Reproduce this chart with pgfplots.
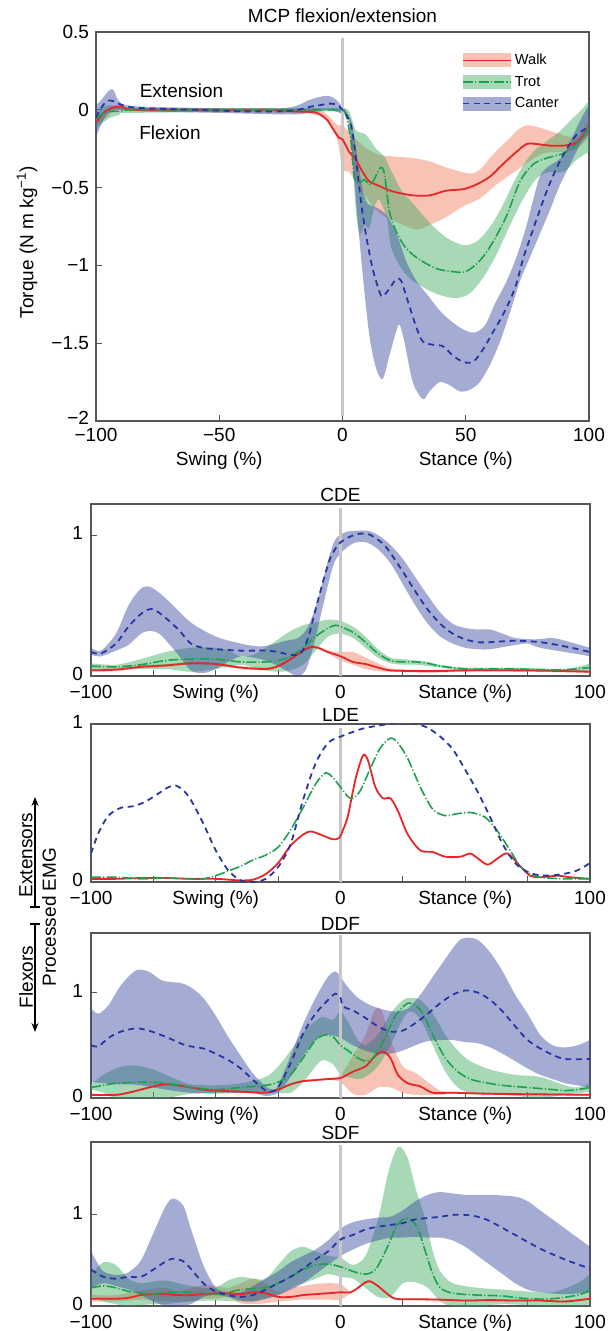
\documentclass[border=0pt]{standalone}
\usepackage{fontspec}
\setmainfont{Liberation Sans}
\usepackage{pgfplots}
\pgfplotsset{compat=1.18}
\usepgfplotslibrary{fillbetween}
\usetikzlibrary{arrows.meta}
\definecolor{walkline}{RGB}{232,38,40}
\definecolor{walkfill}{RGB}{240,120,90}
\definecolor{trotline}{RGB}{30,160,80}
\definecolor{trotfill}{RGB}{60,170,95}
\definecolor{cantline}{RGB}{40,55,160}
\definecolor{cantfill}{RGB}{55,70,160}
\definecolor{axgray}{RGB}{85,85,90}
\pgfplotsset{
  walkL/.style={color=walkline, line width=0.9pt, smooth},
  trotL/.style={color=trotline, line width=0.8pt, dash pattern=on 5pt off 1.1pt on 0.6pt off 1.1pt, smooth},
  cantL/.style={color=cantline, line width=0.9pt, dash pattern=on 3pt off 2.3pt, smooth},
  bnd/.style={draw=none, smooth, forget plot},
  wfill/.style={fill=walkfill, fill opacity=0.45, draw=none, forget plot},
  tfill/.style={fill=trotfill, fill opacity=0.45, draw=none, forget plot},
  cfill/.style={fill=cantfill, fill opacity=0.45, draw=none, forget plot},
  zline/.style={color=black!22, line width=1.5pt, forget plot},
  every axis title/.style={at={(0.5,1)}, anchor=base, yshift=1.5pt},
  common/.style={scale only axis, xmin=-100, xmax=100, axis line style={axgray, line width=0.6pt},
    tick align=inside, xtick pos=bottom, ytick pos=left, tick style={axgray, line width=0.5pt},
    major tick length=3pt, minor tick length=3pt},
  emg/.style={common, width=249.5pt, ymin=0, xtick={-100,-50,0,50,100},
    xticklabels={−100,Swing (\%),0,Stance (\%),100}, minor xtick={-75,-25,25,75},
    xticklabel style={yshift=-1pt},
    ytick={0,1}, yticklabels={0,1}, yticklabel style={yshift=1pt, xshift=-0.5pt}},
}
\begin{document}
\begin{tikzpicture}[font=\fontsize{9.5}{12}\selectfont]

% ================= MCP =================
\begin{axis}[common, at={(48pt,-210.5pt)}, anchor=south west, width=246.5pt, height=194.5pt,
  ymin=-2, ymax=0.5, title={MCP flexion/extension}, title style={yshift=3pt},
  xtick={-100,-50,0,50,100}, xticklabels={−100,{−50\\Swing (\%)},0,{50\\Stance (\%)},100},
  xticklabel style={align=center},
  ytick={-2,-1.5,-1,-0.5,0,0.5}, yticklabels={\raisebox{3pt}{−2},−1.5,−1,−0.5,0,0.5},
  legend style={at={(0.73,0.965)}, anchor=north west, draw=none, fill=none,
    font=\fontsize{7.3}{8.5}\selectfont, row sep=0.5pt,
    nodes={inner sep=1.5pt, text height=5.8pt, text depth=1.5pt}},
  legend cell align=left]
\addplot[bnd, name path=wu] coordinates {(-100,-0.06) (-95,0.0) (-92,0.03) (-88,0.02) (-85,0.01) (-20,0.005) (-12,0.0) (-8,-0.01) (-5,-0.05) (-2,-0.1) (0,-0.1) (3,-0.15) (6,-0.2) (10,-0.25) (15,-0.29) (21,-0.3) (28.5,-0.31) (35,-0.33) (42,-0.37) (51.6,-0.41) (56,-0.38) (59.8,-0.31) (64,-0.24) (68,-0.18) (71,-0.13) (74.7,-0.1) (78.8,-0.11) (83,-0.13) (87,-0.15) (91,-0.17) (95,-0.18) (98,-0.12) (100,-0.05)};
\addplot[bnd, name path=wl] coordinates {(-100,-0.1) (-95,-0.04) (-92,0.0) (-88,0.0) (-85,-0.01) (-20,-0.02) (-12,-0.03) (-8,-0.05) (-5,-0.1) (-2,-0.2) (0,-0.38) (2.7,-0.4) (6,-0.48) (10.9,-0.59) (14,-0.65) (17.7,-0.69) (24.5,-0.74) (30,-0.77) (35.3,-0.74) (42,-0.69) (49,-0.62) (55.7,-0.57) (62.5,-0.48) (70.6,-0.39) (76,-0.33) (81.5,-0.28) (89.7,-0.27) (95,-0.25) (100,-0.18)};
\addplot[wfill] fill between[of=wu and wl];
\addplot[bnd, name path=tu] coordinates {(-100,-0.02) (-97,0.02) (-94,0.03) (-90,0.01) (-85,0.01) (-10,0.01) (0,0.01) (2.7,-0.01) (5.4,-0.13) (9.5,-0.16) (13.6,-0.25) (17,-0.3) (20,-0.4) (24,-0.52) (28.5,-0.6) (35,-0.72) (42,-0.82) (49,-0.87) (54,-0.85) (58,-0.79) (62,-0.7) (66,-0.58) (70,-0.45) (74,-0.34) (78,-0.26) (83,-0.2) (88,-0.14) (93,-0.06) (97,0.0) (100,0.06)};
\addplot[bnd, name path=tl] coordinates {(-100,-0.12) (-97,-0.08) (-94,-0.05) (-90,-0.03) (-85,-0.02) (-10,-0.01) (0,-0.02) (2,-0.05) (4,-0.3) (5.4,-0.65) (7,-0.8) (9,-0.74) (10.9,-0.76) (13,-0.62) (15,-0.58) (18,-0.7) (20,-0.9) (25.8,-1.06) (32.6,-1.14) (39.4,-1.19) (46,-1.21) (51.6,-1.18) (57,-1.08) (62.5,-0.93) (68,-0.74) (73.4,-0.57) (78.8,-0.44) (84,-0.4) (89.7,-0.4) (95,-0.32) (100,-0.27)};
\addplot[tfill] fill between[of=tu and tl];
\addplot[bnd, name path=cu] coordinates {(-100,0.03) (-98,0.06) (-95,0.12) (-93,0.13) (-91,0.06) (-88,0.03) (-80,0.02) (-50,0.01) (-25,0.01) (-18,0.03) (-14,0.06) (-10,0.08) (-6,0.09) (-3,0.07) (0,0.02) (2,-0.02) (4,-0.1) (6,-0.3) (8,-0.5) (10,-0.6) (14,-0.63) (18,-0.68) (22,-0.8) (26,-0.98) (30,-1.1) (35,-1.2) (40,-1.3) (45,-1.37) (50,-1.42) (54,-1.43) (58,-1.38) (62,-1.24) (66,-1.12) (70,-0.97) (74,-0.78) (77,-0.6) (80,-0.43) (83,-0.37) (87,-0.33) (90,-0.28) (94,-0.15) (97,-0.05) (100,0.03)};
\addplot[bnd, name path=cl] coordinates {(-100,-0.17) (-98,-0.1) (-95,-0.02) (-90,0.0) (-80,-0.01) (-50,-0.02) (-20,-0.03) (-10,-0.01) (-5,0.0) (0,-0.03) (2.7,-0.07) (5,-0.5) (8.2,-1.06) (10.9,-1.45) (13.6,-1.66) (16.3,-1.73) (19,-1.58) (21.7,-1.43) (23.1,-1.38) (25.1,-1.49) (28.5,-1.75) (32.6,-1.86) (35.3,-1.81) (39.4,-1.75) (43.5,-1.77) (47.6,-1.81) (51.6,-1.8) (55.7,-1.75) (59.8,-1.64) (63.9,-1.49) (68,-1.3) (72,-1.1) (76,-0.95) (80,-0.8) (84,-0.65) (88.3,-0.48) (92.4,-0.35) (96.5,-0.22) (100,-0.16)};
\addplot[cfill] fill between[of=cu and cl];
\addplot[zline] coordinates {(0,-1.97) (0,0.46)};
\addplot[walkL, legend image code/.code={\path[fill=walkfill, fill opacity=0.45, draw=none] (0pt,-3.5pt) rectangle (24pt,3.5pt); \draw[walkline, line width=0.8pt, solid] (0pt,0pt) -- (24pt,0pt);}] coordinates {(-100,-0.08) (-97,-0.02) (-94,0.01) (-91,0.02) (-88,0.01) (-85,0.0) (-70,0.0) (-50,0.0) (-30,0.0) (-20,-0.01) (-12,-0.015) (-9,-0.03) (-6,-0.07) (-4,-0.12) (-1.4,-0.18) (0,-0.19) (2.7,-0.27) (5.4,-0.32) (8.2,-0.4) (10.9,-0.46) (15,-0.49) (17.7,-0.51) (21.7,-0.53) (28.5,-0.55) (35.3,-0.55) (42,-0.52) (49,-0.51) (54.3,-0.48) (59.8,-0.43) (65,-0.35) (70.6,-0.27) (74.7,-0.22) (78.8,-0.22) (84,-0.23) (89.7,-0.23) (95,-0.21) (100,-0.11)};
\addlegendentry{Walk}
\addplot[trotL, legend image code/.code={\path[fill=trotfill, fill opacity=0.45, draw=none] (0pt,-3.5pt) rectangle (24pt,3.5pt); \draw[trotline, line width=0.8pt, dash pattern=on 5pt off 1.1pt on 0.6pt off 1.1pt] (0pt,0pt) -- (24pt,0pt);}] coordinates {(-100,-0.06) (-97,-0.02) (-94,-0.01) (-90,-0.01) (-85,0.0) (-50,0.0) (-10,0.0) (-3,0.0) (0,-0.005) (1.4,-0.03) (3.4,-0.2) (4.8,-0.44) (6.8,-0.47) (8.8,-0.45) (11.5,-0.48) (14.3,-0.4) (15.6,-0.37) (17,-0.41) (19,-0.65) (21.7,-0.78) (25.8,-0.89) (31,-0.96) (38,-1.02) (44.8,-1.04) (50,-1.04) (55.7,-0.97) (61,-0.85) (66.6,-0.68) (72,-0.46) (77.4,-0.35) (82.9,-0.31) (89.7,-0.28) (95,-0.22) (100,-0.12)};
\addlegendentry{Trot}
\addplot[cantL, legend image code/.code={\path[fill=cantfill, fill opacity=0.45, draw=none] (0pt,-3.5pt) rectangle (24pt,3.5pt); \draw[cantline, line width=0.8pt, dash pattern=on 3pt off 2.3pt] (0pt,0pt) -- (24pt,0pt);}] coordinates {(-100,-0.05) (-98,0.01) (-96,0.05) (-94,0.06) (-91,0.04) (-87,0.02) (-80,0.01) (-60,0.0) (-40,-0.01) (-25,-0.01) (-18,0.0) (-13,0.02) (-9,0.03) (-5,0.04) (-2,0.03) (0,0.0) (1.4,-0.03) (4,-0.14) (7.5,-0.59) (9.5,-0.8) (12.2,-1.02) (15,-1.17) (16.3,-1.2) (19,-1.15) (21.7,-1.09) (23.8,-1.1) (26.5,-1.23) (30,-1.4) (32.6,-1.49) (36.7,-1.51) (40.8,-1.52) (44.8,-1.58) (48.9,-1.62) (53,-1.62) (57,-1.54) (61,-1.43) (65,-1.32) (68.6,-1.2) (70.7,-1.11) (73.4,-0.95) (76,-0.83) (78.8,-0.7) (82.9,-0.52) (87,-0.37) (91,-0.25) (95,-0.16) (100,-0.11)};
\addlegendentry{Canter}
\node at (axis cs:-65.3,0.121) {Extension};
\node at (axis cs:-70,-0.146) {Flexion};
\end{axis}

% ================= CDE =================
\begin{axis}[emg, at={(45.5pt,-338pt)}, anchor=south west, height=86pt, ymax=1.22, title={CDE}]
\addplot[bnd, name path=wu] coordinates {(-100,0.05) (-90,0.055) (-80,0.075) (-70,0.085) (-60,0.1) (-50,0.095) (-40,0.07) (-30,0.06) (-25,0.08) (-20,0.13) (-15,0.19) (-12,0.215) (-9,0.21) (-5,0.18) (0,0.17) (5,0.17) (10,0.13) (15,0.09) (20,0.055) (30,0.045) (40,0.045) (50,0.05) (70,0.05) (90,0.045) (100,0.04)};
\addplot[bnd, name path=wl] coordinates {(-100,0.03) (-90,0.035) (-80,0.055) (-70,0.065) (-60,0.08) (-50,0.075) (-40,0.05) (-30,0.04) (-25,0.06) (-20,0.11) (-15,0.17) (-12,0.195) (-9,0.19) (-5,0.16) (0,0.11) (5,0.08) (10,0.05) (15,0.035) (20,0.03) (30,0.025) (40,0.025) (50,0.03) (70,0.03) (90,0.025) (100,0.02)};
\addplot[wfill] fill between[of=wu and wl];
\addplot[bnd, name path=tu] coordinates {(-100,0.09) (-90,0.08) (-80,0.12) (-70,0.17) (-60,0.2) (-50,0.2) (-45,0.18) (-40,0.14) (-35,0.15) (-30,0.2) (-25,0.26) (-20,0.32) (-15,0.36) (-10,0.38) (-5,0.4) (0,0.39) (5,0.35) (10,0.28) (15,0.19) (20,0.13) (25,0.12) (30,0.11) (35,0.1) (40,0.08) (50,0.06) (70,0.06) (90,0.05) (100,0.09)};
\addplot[bnd, name path=tl] coordinates {(-100,0.04) (-90,0.05) (-80,0.05) (-70,0.05) (-60,0.03) (-50,0.05) (-40,0.08) (-35,0.06) (-30,0.04) (-25,0.03) (-20,0.04) (-15,0.08) (-10,0.18) (-5,0.28) (0,0.3) (5,0.27) (10,0.2) (15,0.13) (20,0.09) (25,0.08) (30,0.08) (40,0.06) (50,0.04) (70,0.04) (90,0.03) (100,0.04)};
\addplot[tfill] fill between[of=tu and tl];
\addplot[bnd, name path=cu] coordinates {(-100,0.2) (-96,0.18) (-90,0.3) (-85,0.5) (-80,0.62) (-76,0.63) (-70,0.55) (-60,0.38) (-50,0.28) (-40,0.23) (-33,0.21) (-28,0.22) (-22,0.25) (-17,0.27) (-13,0.35) (-9,0.55) (-5,0.82) (-2,0.97) (2,1.02) (6,1.03) (11,1.03) (15,1.0) (20,0.93) (25,0.83) (30,0.7) (35,0.57) (40,0.45) (45,0.37) (50,0.34) (55,0.33) (60,0.33) (65,0.3) (70,0.27) (78,0.26) (85,0.27) (90,0.25) (100,0.2)};
\addplot[bnd, name path=cl] coordinates {(-100,0.15) (-96,0.14) (-90,0.18) (-85,0.22) (-80,0.3) (-76,0.32) (-72,0.29) (-65,0.15) (-60,0.04) (-55,0.02) (-50,0.05) (-45,0.1) (-40,0.14) (-35,0.13) (-30,0.11) (-25,0.07) (-20,0.02) (-17,0.0) (-14,0.04) (-11,0.2) (-7,0.5) (-3,0.78) (0,0.87) (5,0.94) (10,0.95) (15,0.9) (20,0.8) (25,0.65) (30,0.5) (35,0.37) (40,0.28) (45,0.23) (50,0.2) (55,0.19) (60,0.19) (70,0.22) (75,0.23) (80,0.2) (90,0.17) (100,0.14)};
\addplot[cfill] fill between[of=cu and cl];
\addplot[zline] coordinates {(0,0) (0,1.19)};
\addplot[walkL] coordinates {(-100,0.04) (-90,0.045) (-80,0.065) (-70,0.075) (-60,0.09) (-50,0.085) (-40,0.06) (-30,0.05) (-25,0.07) (-20,0.12) (-15,0.18) (-12,0.205) (-9,0.2) (-5,0.17) (0,0.14) (5,0.1) (10,0.085) (15,0.06) (20,0.04) (30,0.035) (40,0.035) (50,0.04) (70,0.04) (90,0.035) (100,0.03)};
\addplot[trotL] coordinates {(-100,0.07) (-90,0.065) (-80,0.08) (-70,0.11) (-60,0.12) (-50,0.12) (-40,0.1) (-30,0.1) (-25,0.11) (-20,0.14) (-15,0.2) (-10,0.28) (-5,0.34) (-2,0.36) (0,0.35) (5,0.31) (10,0.24) (15,0.16) (20,0.11) (25,0.1) (30,0.1) (35,0.09) (40,0.07) (50,0.05) (60,0.05) (70,0.05) (80,0.045) (90,0.045) (100,0.06)};
\addplot[cantL] coordinates {(-100,0.17) (-96,0.16) (-90,0.23) (-85,0.35) (-80,0.44) (-76,0.475) (-72,0.44) (-65,0.33) (-60,0.23) (-55,0.2) (-50,0.19) (-40,0.18) (-30,0.18) (-25,0.17) (-20,0.15) (-16,0.16) (-13,0.27) (-10,0.47) (-7,0.67) (-4,0.84) (-1,0.93) (1,0.96) (4,0.99) (8,1.01) (12,1.0) (18,0.92) (25,0.74) (30,0.6) (35,0.47) (40,0.37) (45,0.3) (50,0.26) (55,0.24) (60,0.24) (70,0.25) (80,0.24) (90,0.21) (100,0.17)};
\end{axis}

% ================= LDE =================
\begin{axis}[emg, at={(45.5pt,-441pt)}, anchor=south west, height=79pt, ymax=1.0, title={LDE}]
\addplot[zline] coordinates {(0,0) (0,0.975)};
\addplot[walkL] coordinates {(-100,0.02) (-90,0.02) (-80,0.025) (-70,0.025) (-60,0.02) (-50,0.02) (-45,0.015) (-40,0.01) (-35,0.015) (-30,0.05) (-25,0.12) (-20,0.23) (-15,0.3) (-12,0.32) (-8,0.3) (-3,0.27) (-0.5,0.28) (1,0.33) (3,0.42) (6,0.65) (9,0.8) (11,0.77) (14,0.6) (17,0.53) (20,0.53) (23,0.45) (27,0.3) (32,0.2) (37,0.19) (42,0.16) (48,0.16) (52,0.18) (55,0.15) (59,0.11) (63,0.15) (67,0.18) (72,0.1) (76,0.04) (80,0.03) (87,0.04) (92,0.03) (100,0.02)};
\addplot[trotL] coordinates {(-100,0.03) (-90,0.03) (-80,0.02) (-70,0.025) (-60,0.02) (-55,0.02) (-50,0.04) (-45,0.07) (-40,0.1) (-35,0.14) (-30,0.17) (-25,0.22) (-20,0.33) (-15,0.47) (-10,0.62) (-6,0.69) (-3,0.66) (0,0.6) (3,0.54) (5,0.53) (8,0.58) (12,0.72) (16,0.85) (20,0.91) (23,0.88) (27,0.78) (32,0.6) (37,0.46) (42,0.42) (46,0.43) (52,0.44) (58,0.41) (63,0.32) (68,0.2) (72,0.1) (76,0.05) (80,0.03) (90,0.02) (100,0.02)};
\addplot[cantL] coordinates {(-100,0.18) (-97,0.31) (-93,0.42) (-88,0.47) (-83,0.48) (-78,0.51) (-73,0.56) (-69,0.6) (-66,0.61) (-63,0.58) (-60,0.52) (-55,0.37) (-50,0.2) (-45,0.074) (-40,0.01) (-35,0.0) (-30,0.02) (-25,0.095) (-20,0.24) (-15,0.52) (-10,0.75) (-5,0.88) (0,0.92) (5,0.95) (10,0.975) (20,1.0) (30,1.0) (35,0.975) (40,0.92) (45,0.84) (50,0.71) (55,0.57) (60,0.41) (65,0.24) (70,0.12) (75,0.064) (80,0.042) (85,0.042) (90,0.053) (95,0.074) (100,0.12)};
\end{axis}

% ================= DDF =================
\begin{axis}[emg, at={(45.5pt,-549pt)}, anchor=south west, height=82.5pt, ymax=1.565, title={DDF}]
\addplot[bnd, name path=wu] coordinates {(-100,0.04) (-90,0.04) (-85,0.06) (-80,0.09) (-75,0.12) (-70,0.14) (-65,0.13) (-60,0.11) (-55,0.09) (-50,0.08) (-40,0.07) (-30,0.06) (-25,0.09) (-20,0.14) (-15,0.17) (-10,0.18) (-5,0.19) (0,0.22) (5,0.4) (10,0.6) (13,0.8) (15,0.86) (17,0.8) (20,0.55) (25,0.3) (30,0.24) (35,0.15) (40,0.07) (45,0.06) (60,0.05) (80,0.045) (100,0.04)};
\addplot[bnd, name path=wl] coordinates {(-100,0.02) (-90,0.02) (-85,0.04) (-80,0.07) (-75,0.1) (-70,0.12) (-65,0.11) (-60,0.09) (-55,0.07) (-50,0.06) (-40,0.05) (-30,0.04) (-25,0.07) (-20,0.12) (-15,0.15) (-10,0.16) (-5,0.17) (0,0.15) (5,0.04) (10,0.03) (15,0.1) (20,0.1) (25,0.05) (30,0.03) (40,0.03) (45,0.04) (60,0.03) (80,0.025) (100,0.02)};
\addplot[wfill] fill between[of=wu and wl];
\addplot[bnd, name path=tu] coordinates {(-100,0.13) (-95,0.22) (-90,0.28) (-85,0.31) (-80,0.3) (-75,0.27) (-70,0.22) (-65,0.17) (-60,0.13) (-50,0.12) (-40,0.14) (-30,0.2) (-25,0.3) (-20,0.45) (-15,0.62) (-10,0.73) (-7,0.77) (-3,0.74) (0,0.82) (3,0.72) (7,0.55) (10,0.5) (15,0.6) (20,0.8) (25,0.93) (28,0.95) (32,0.93) (37,0.8) (42,0.6) (47,0.45) (52,0.35) (60,0.27) (70,0.22) (80,0.2) (90,0.12) (95,0.1) (100,0.14)};
\addplot[bnd, name path=tl] coordinates {(-100,0.08) (-95,0.05) (-90,0.0) (-80,0.0) (-70,0.0) (-60,0.04) (-50,0.04) (-40,0.05) (-30,0.06) (-25,0.05) (-20,0.05) (-15,0.15) (-10,0.3) (-7,0.36) (-3,0.32) (0,0.22) (3,0.2) (7,0.18) (10,0.2) (15,0.3) (20,0.5) (25,0.75) (28,0.82) (32,0.75) (37,0.5) (42,0.25) (47,0.1) (52,0.05) (60,0.04) (70,0.02) (80,0.0) (90,0.03) (100,0.06)};
\addplot[tfill] fill between[of=tu and tl];
\addplot[bnd, name path=cu] coordinates {(-100,0.85) (-97,0.8) (-93,0.88) (-88,1.07) (-82,1.21) (-77,1.2) (-72,1.12) (-68,1.1) (-64,1.09) (-60,1.05) (-55,0.95) (-50,0.78) (-45,0.58) (-40,0.4) (-35,0.23) (-30,0.11) (-27,0.08) (-25,0.12) (-20,0.4) (-15,0.7) (-10,0.95) (-5,1.15) (-2,1.2) (0,1.15) (3,1.05) (7,0.95) (12,0.88) (17,0.84) (22,0.82) (27,0.85) (32,0.98) (37,1.15) (42,1.32) (47,1.48) (50,1.52) (55,1.5) (60,1.38) (65,1.2) (70,0.98) (75,0.8) (80,0.6) (85,0.5) (90,0.48) (95,0.5) (100,0.55)};
\addplot[bnd, name path=cl] coordinates {(-100,0.15) (-95,0.14) (-90,0.13) (-85,0.13) (-80,0.12) (-70,0.08) (-60,0.05) (-50,0.05) (-40,0.05) (-35,0.05) (-30,0.02) (-25,0.05) (-20,0.2) (-15,0.4) (-10,0.55) (-5,0.6) (0,0.57) (5,0.5) (10,0.45) (15,0.42) (20,0.42) (25,0.45) (30,0.5) (35,0.54) (40,0.55) (45,0.55) (50,0.53) (55,0.52) (60,0.48) (65,0.42) (70,0.35) (75,0.28) (80,0.22) (85,0.18) (90,0.14) (95,0.12) (100,0.1)};
\addplot[cfill] fill between[of=cu and cl];
\addplot[zline] coordinates {(0,0) (0,1.55)};
\addplot[walkL] coordinates {(-100,0.03) (-90,0.03) (-85,0.05) (-80,0.08) (-75,0.11) (-70,0.13) (-65,0.12) (-60,0.1) (-55,0.08) (-50,0.07) (-40,0.06) (-30,0.05) (-25,0.08) (-20,0.13) (-15,0.16) (-10,0.17) (-5,0.18) (0,0.19) (5,0.25) (10,0.3) (14,0.4) (17,0.44) (20,0.38) (23,0.22) (27,0.14) (32,0.11) (37,0.05) (45,0.05) (60,0.04) (80,0.035) (100,0.03)};
\addplot[trotL] coordinates {(-100,0.1) (-95,0.12) (-90,0.14) (-80,0.15) (-70,0.14) (-60,0.1) (-50,0.08) (-40,0.1) (-30,0.12) (-25,0.15) (-20,0.22) (-15,0.38) (-10,0.55) (-6,0.6) (-3,0.58) (0,0.5) (3,0.45) (7,0.38) (10,0.35) (13,0.38) (17,0.53) (22,0.78) (27,0.9) (30,0.88) (33,0.8) (37,0.6) (42,0.38) (47,0.25) (52,0.18) (57,0.15) (65,0.12) (75,0.1) (85,0.08) (90,0.07) (95,0.08) (100,0.1)};
\addplot[cantL] coordinates {(-100,0.5) (-97,0.49) (-93,0.57) (-88,0.63) (-82,0.66) (-77,0.64) (-70,0.58) (-62,0.5) (-55,0.47) (-50,0.42) (-45,0.36) (-40,0.28) (-35,0.17) (-30,0.07) (-28,0.06) (-25,0.1) (-20,0.33) (-15,0.61) (-10,0.8) (-5,0.93) (-2,0.99) (0,0.95) (1,0.87) (5,0.83) (10,0.76) (15,0.68) (20,0.63) (25,0.64) (30,0.71) (35,0.8) (40,0.9) (45,0.98) (50,1.02) (55,1.0) (60,0.93) (65,0.82) (70,0.68) (75,0.55) (80,0.47) (85,0.41) (90,0.37) (100,0.37)};
\end{axis}

% ================= SDF =================
\begin{axis}[emg, at={(45.5pt,-653pt)}, anchor=south west, height=82pt, ymax=1.8, title={SDF}]
\addplot[bnd, name path=wu] coordinates {(-100,0.12) (-90,0.12) (-80,0.17) (-70,0.2) (-65,0.16) (-55,0.23) (-50,0.22) (-45,0.2) (-40,0.25) (-35,0.3) (-30,0.25) (-25,0.15) (-20,0.2) (-15,0.22) (-10,0.24) (-5,0.25) (0,0.24) (4,0.16) (7,0.21) (10,0.27) (12,0.28) (15,0.23) (18,0.16) (22,0.09) (30,0.085) (40,0.08) (50,0.07) (60,0.075) (70,0.07) (80,0.07) (90,0.06) (100,0.09)};
\addplot[bnd, name path=wl] coordinates {(-100,0.05) (-90,0.05) (-80,0.07) (-70,0.05) (-60,0.05) (-55,0.08) (-50,0.08) (-45,0.1) (-40,0.03) (-35,0.02) (-30,0.03) (-25,0.05) (-20,0.06) (-15,0.07) (-10,0.07) (-5,0.07) (0,0.07) (4,0.14) (7,0.19) (10,0.25) (12,0.26) (15,0.21) (18,0.14) (22,0.07) (30,0.065) (40,0.06) (50,0.05) (60,0.055) (70,0.05) (80,0.05) (90,0.04) (100,0.07)};
\addplot[wfill] fill between[of=wu and wl];
\addplot[bnd, name path=tu] coordinates {(-100,0.35) (-95,0.48) (-90,0.45) (-85,0.3) (-80,0.25) (-75,0.27) (-70,0.28) (-65,0.25) (-60,0.22) (-55,0.2) (-50,0.2) (-45,0.28) (-40,0.32) (-35,0.3) (-30,0.3) (-25,0.45) (-20,0.6) (-15,0.65) (-10,0.6) (-5,0.55) (0,0.53) (5,0.45) (10,0.55) (15,0.95) (19,1.45) (22,1.7) (24,1.75) (27,1.62) (30,1.3) (34,0.95) (37,0.6) (40,0.38) (45,0.25) (55,0.2) (65,0.18) (75,0.16) (85,0.15) (95,0.25) (100,0.35)};
\addplot[bnd, name path=tl] coordinates {(-100,0.1) (-95,0.05) (-90,0.02) (-85,0.0) (-75,0.02) (-70,0.02) (-60,0.05) (-50,0.06) (-40,0.05) (-35,0.05) (-30,0.08) (-25,0.12) (-20,0.2) (-15,0.25) (-10,0.3) (-5,0.35) (0,0.32) (5,0.3) (10,0.2) (15,0.1) (20,0.1) (25,0.25) (30,0.26) (35,0.2) (40,0.05) (45,0.0) (55,0.0) (65,0.02) (75,0.01) (85,0.0) (95,0.0) (100,0.02)};
\addplot[tfill] fill between[of=tu and tl];
\addplot[bnd, name path=cu] coordinates {(-100,0.6) (-98,0.5) (-95,0.38) (-90,0.34) (-85,0.37) (-80,0.5) (-75,0.8) (-70,1.1) (-67,1.18) (-63,1.1) (-60,0.85) (-55,0.45) (-50,0.2) (-45,0.15) (-40,0.15) (-35,0.22) (-30,0.3) (-25,0.38) (-20,0.48) (-15,0.55) (-10,0.62) (-5,0.72) (0,0.85) (5,0.92) (10,0.95) (15,0.97) (20,0.98) (25,1.05) (30,1.15) (35,1.22) (40,1.25) (50,1.22) (60,1.22) (70,1.2) (75,1.15) (80,1.05) (85,0.95) (90,0.85) (95,0.75) (100,0.65)};
\addplot[bnd, name path=cl] coordinates {(-100,0.2) (-95,0.25) (-90,0.22) (-85,0.18) (-80,0.12) (-75,0.05) (-70,0.0) (-65,0.0) (-60,0.02) (-55,0.1) (-50,0.12) (-45,0.1) (-40,0.06) (-35,0.05) (-30,0.08) (-25,0.12) (-20,0.18) (-15,0.25) (-10,0.35) (-5,0.45) (0,0.55) (5,0.62) (10,0.68) (15,0.72) (20,0.75) (25,0.75) (30,0.76) (35,0.75) (40,0.75) (45,0.72) (50,0.65) (55,0.55) (60,0.45) (65,0.35) (70,0.25) (75,0.18) (80,0.15) (90,0.13) (100,0.15)};
\addplot[cfill] fill between[of=cu and cl];
\addplot[zline] coordinates {(0,0) (0,1.77)};
\addplot[walkL] coordinates {(-100,0.08) (-90,0.08) (-85,0.09) (-80,0.12) (-75,0.13) (-70,0.13) (-65,0.12) (-60,0.12) (-55,0.13) (-50,0.14) (-45,0.14) (-40,0.13) (-35,0.15) (-30,0.14) (-25,0.1) (-20,0.1) (-15,0.12) (-10,0.13) (-5,0.14) (0,0.15) (4,0.15) (7,0.2) (10,0.26) (12,0.27) (15,0.22) (18,0.15) (22,0.08) (30,0.075) (40,0.07) (50,0.06) (60,0.065) (70,0.06) (80,0.06) (90,0.05) (100,0.08)};
\addplot[trotL] coordinates {(-100,0.2) (-95,0.22) (-90,0.2) (-85,0.16) (-80,0.14) (-75,0.13) (-70,0.15) (-60,0.15) (-50,0.13) (-45,0.15) (-40,0.18) (-35,0.19) (-30,0.2) (-25,0.25) (-20,0.32) (-15,0.4) (-10,0.45) (-5,0.46) (0,0.43) (5,0.38) (10,0.35) (14,0.4) (18,0.6) (22,0.85) (25,0.95) (28,0.95) (31,0.85) (34,0.6) (37,0.35) (40,0.2) (45,0.14) (55,0.12) (65,0.11) (75,0.08) (85,0.08) (95,0.12) (100,0.17)};
\addplot[cantL] coordinates {(-100,0.4) (-95,0.32) (-90,0.3) (-85,0.32) (-80,0.32) (-75,0.4) (-70,0.49) (-67,0.52) (-63,0.49) (-60,0.41) (-55,0.25) (-50,0.16) (-45,0.12) (-40,0.1) (-35,0.12) (-30,0.18) (-25,0.25) (-20,0.32) (-15,0.41) (-10,0.51) (-5,0.6) (0,0.73) (5,0.78) (10,0.84) (15,0.87) (20,0.89) (25,0.91) (30,0.95) (40,0.98) (45,1.0) (50,1.0) (55,0.98) (60,0.93) (70,0.78) (80,0.63) (90,0.51) (100,0.41)};
\end{axis}

% ====== side labels ======
\node[rotate=90] at (13.5pt,-121pt) {Torque (N m kg\textsuperscript{−1})};
\node[rotate=90] at (24.5pt,-458.5pt) {Processed EMG};
\node[rotate=90] at (13pt,-427.5pt) {Extensors};
\node[rotate=90] at (13pt,-488.5pt) {Flexors};
\draw[-{Stealth[length=4.5pt,width=3.5pt]}, line width=0.6pt] (17.5pt,-453.5pt) -- (17.5pt,-398.5pt);
\draw[line width=0.6pt] (15pt,-453.5pt) -- (20pt,-453.5pt);
\draw[-{Stealth[length=4.5pt,width=3.5pt]}, line width=0.6pt] (17.5pt,-462pt) -- (17.5pt,-516pt);
\draw[line width=0.6pt] (15pt,-462pt) -- (20pt,-462pt);
\pgfresetboundingbox
\path[use as bounding box] (0pt,0pt) rectangle (304.5pt,-665.5pt);
\end{tikzpicture}
\end{document}
